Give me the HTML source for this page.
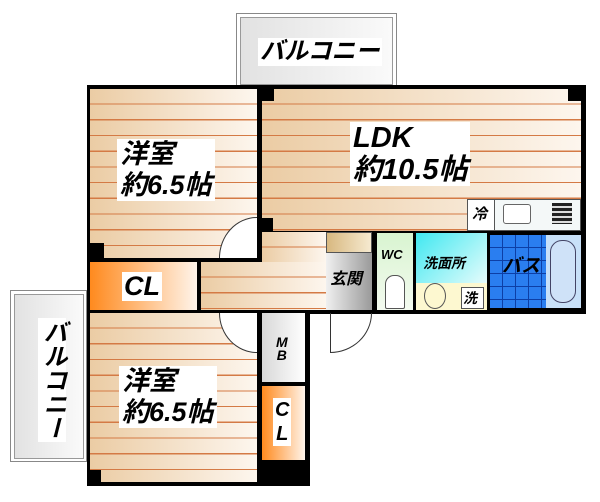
<!DOCTYPE html>
<html><head><meta charset="utf-8"><style>
body{margin:0;width:600px;height:502px;background:#fff;position:relative;overflow:hidden;font-family:"Liberation Sans","Noto Sans CJK JP",sans-serif}
div{position:absolute;box-sizing:border-box}
.floor{background:repeating-linear-gradient(to bottom,transparent 0 14.5px,#d47a45 14.5px 15.7px),linear-gradient(to right,#ebcca4,#fdf6ee)}
.blk{background:#000}
.t{font-weight:bold;font-style:italic;color:#000;white-space:nowrap;line-height:1;background:#fff}
.bal{border:1px solid #888;background:#fff}
.bal>div{border:1px solid #999;background:linear-gradient(to right,#e2e2e2,#fafafa)}
</style></head><body>
<!-- top balcony -->
<div class="bal" style="left:236px;top:13px;width:161px;height:73px"><div style="left:3px;top:3px;width:153px;height:68px"></div></div>
<div class="t" style="left:258px;top:38px;font-size:24px;padding:2px">バルコニー</div>
<!-- left balcony -->
<div class="bal" style="left:10px;top:290px;width:77px;height:172px"><div style="left:3px;top:3px;width:70px;height:165px"></div></div>
<div class="t" style="left:38px;top:318px;font-size:24px;writing-mode:vertical-rl;padding:2px">バルコニー</div>
<!-- outer walls -->
<div class="blk" style="left:87px;top:85px;width:499px;height:229px"></div>
<div class="blk" style="left:87px;top:300px;width:223px;height:186px"></div>
<!-- bedroom 1 -->
<div class="floor" style="left:90px;top:89px;width:167px;height:169px"></div>
<!-- LDK -->
<div class="floor" style="left:262px;top:89px;width:319px;height:142px"></div>
<div class="blk" style="left:262px;top:89px;width:12px;height:12px"></div>
<div class="blk" style="left:568px;top:89px;width:13px;height:12px"></div>
<div class="blk" style="left:262px;top:218px;width:11px;height:14px"></div>
<div class="blk" style="left:90px;top:243px;width:14px;height:15px"></div>
<!-- kitchen -->
<div style="left:467px;top:199px;width:114px;height:32px;background:#f4f8f8;border:1px solid #555"></div>
<div style="left:467px;top:199px;width:28px;height:32px;background:#fff;border:1px solid #555"></div>
<div class="t" style="left:472px;top:207px;font-size:15px">冷</div>
<div style="left:503px;top:204px;width:28px;height:20px;border:1px solid #666;border-radius:3px;background:#fff"></div>
<div style="left:552px;top:203px;width:20px;height:21px;background:repeating-linear-gradient(to bottom,#222 0 3px,#ddd 3px 5px)"></div>
<!-- hall -->
<div class="floor" style="left:262px;top:232px;width:64px;height:32px"></div>
<div class="floor" style="left:201px;top:262px;width:125px;height:48px"></div>
<!-- CL1 -->
<div style="left:90px;top:262px;width:107px;height:48px;background:linear-gradient(to right,#ff8a1e,#fff4ea)"></div>
<div class="t" style="left:122px;top:272px;font-size:27px;padding:1px 2px">CL</div>
<!-- genkan -->
<div style="left:326px;top:232px;width:46px;height:21px;background:linear-gradient(to right,#d8b880,#f6ead0);border:1px solid #555"></div>
<div style="left:326px;top:253px;width:46px;height:57px;background:linear-gradient(to right,#f0f0f0,#9a9a9a)"></div>
<div class="t" style="left:330px;top:272px;font-size:16px;background:none">玄関</div>
<!-- WC -->
<div style="left:377px;top:233px;width:36px;height:77px;background:linear-gradient(to bottom,#d8f4d0,#f4fbf0)"></div>
<div class="t" style="left:381px;top:248px;font-size:13px;background:none">WC</div>
<div style="left:385px;top:275px;width:20px;height:34px;border:1px solid #555;border-radius:9px 9px 2px 2px;background:#fff"></div>
<!-- washroom -->
<div style="left:416px;top:233px;width:71px;height:50px;background:linear-gradient(135deg,#40e8f0,#e6fcfc)"></div>
<div style="left:416px;top:283px;width:71px;height:27px;background:#fdf8d0"></div>
<div class="t" style="left:423px;top:256px;font-size:14px;background:none">洗面所</div>
<div style="left:424px;top:283px;width:22px;height:26px;border:1px solid #555;border-radius:50%"></div>
<div style="left:461px;top:287px;width:23px;height:22px;border:1px solid #555;background:#fff"></div>
<div class="t" style="left:463px;top:291px;font-size:14px">洗</div>
<!-- bath -->
<div style="left:490px;top:235px;width:56px;height:73px;background-color:#2a7ef0;background-image:repeating-linear-gradient(to right,transparent 0 12px,#0d3fa6 12px 13px),repeating-linear-gradient(to bottom,transparent 0 12px,#0d3fa6 12px 13px)"></div>
<div class="t" style="left:502px;top:257px;font-size:19px;background:none">バス</div>
<div style="left:546px;top:235px;width:35px;height:73px;background:#c8e0f8"></div>
<div style="left:550px;top:240px;width:26px;height:63px;border:1px solid #446;border-radius:12px;background:#cfe2f8"></div>
<!-- bedroom 2 -->
<div class="floor" style="left:90px;top:313px;width:167px;height:169px"></div>
<div class="blk" style="left:87px;top:470px;width:14px;height:14px"></div>
<!-- MB -->
<div style="left:262px;top:313px;width:43px;height:69px;background:linear-gradient(to right,#d8d8d8,#fff)"></div>
<div class="t" style="left:276px;top:336px;font-size:14px;line-height:13px;text-align:center;background:none">M<br>B</div>
<!-- CL2 -->
<div style="left:262px;top:386px;width:43px;height:74px;background:linear-gradient(to right,#ff8a1e,#fff4ea)"></div>
<div class="t" style="left:273px;top:398px;font-size:20px;line-height:24px;text-align:center;padding:0 2px">C<br>L</div>
<!-- doors -->
<div style="left:219px;top:217px;width:38px;height:41px;border-top:1px solid #333;border-left:1px solid #333;border-top-left-radius:38px 41px;background:#fff"></div>
<div style="left:219px;top:313px;width:38px;height:40px;border-bottom:1px solid #333;border-left:1px solid #333;border-bottom-left-radius:38px 40px;background:#fff"></div>
<div style="left:330px;top:313px;width:42px;height:40px;border-bottom:1px solid #333;border-right:1px solid #333;border-bottom-right-radius:42px 40px;border-left:1px solid #333"></div>
<!-- labels -->
<div class="t" style="left:117px;top:139px;font-size:27px;line-height:31px;padding:0 3px">洋室<br>約6.5帖</div>
<div class="t" style="left:350px;top:122px;font-size:29px;line-height:32px;padding:0 3px">LDK<br>約10.5帖</div>
<div class="t" style="left:119px;top:366px;font-size:27px;line-height:31px;padding:0 3px">洋室<br>約6.5帖</div>
</body></html>
